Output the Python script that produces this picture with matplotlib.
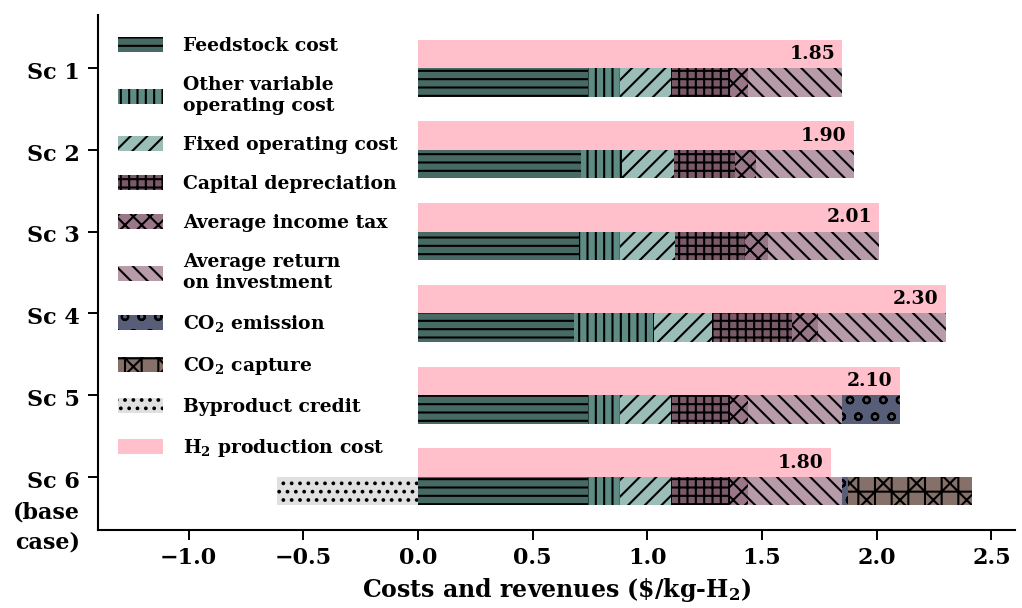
import matplotlib
matplotlib.use('Agg')
import matplotlib.pyplot as plt
import matplotlib.transforms as mtransforms
import numpy as np

# ---------------- data ----------------
scenarios = ['Sc 1', 'Sc 2', 'Sc 3', 'Sc 4', 'Sc 5', 'Sc 6\n(base\ncase)']
feedstock = [0.743, 0.709, 0.701, 0.680, 0.743, 0.743]
other_var = [0.139, 0.181, 0.182, 0.350, 0.139, 0.139]
fixed_op = [0.221, 0.226, 0.236, 0.251, 0.221, 0.221]
capital_dep = [0.257, 0.268, 0.307, 0.350, 0.257, 0.257]
income_tax = [0.080, 0.088, 0.098, 0.112, 0.080, 0.080]
return_inv = [0.410, 0.428, 0.486, 0.557, 0.410, 0.410]
co2_emission = [0.0, 0.0, 0.0, 0.0, 0.250, 0.025]
co2_capture = [0.0, 0.0, 0.0, 0.0, 0.0, 0.540]
byproduct = [0.0, 0.0, 0.0, 0.0, 0.0, -0.615]
h2_cost = [1.85, 1.90, 2.01, 2.30, 2.10, 1.80]

stack_labels = ['Feedstock cost', 'Other variable\noperating cost', 'Fixed operating cost',
                'Capital depreciation', 'Average income tax', 'Average return\non investment',
                'CO$_2$ emission', 'CO$_2$ capture']
byproduct_label = 'Byproduct credit'
h2_label = 'H$_2$ production cost'
xticks = [-1.0, -0.5, 0.0, 0.5, 1.0, 1.5, 2.0, 2.5]

# ---------------- style ----------------
FONT = 'DejaVu Serif'
plt.rcParams['font.family'] = [FONT, 'DejaVu Sans']
plt.rcParams['font.weight'] = 'bold'
plt.rcParams['mathtext.default'] = 'regular'
plt.rcParams['hatch.linewidth'] = 1.5
plt.rcParams['hatch.color'] = 'black'

colors = ['#476b64', '#5e8c84', '#9bbdb7', '#7a5a68', '#9a7689', '#b79ba9', '#585d78', '#86706a']
hatches = ['--', '||', '//', '++', 'xx', '\\\\', 'o', '+x']
byproduct_color, byproduct_hatch = '#e0e0e0', '..'
h2_color = '#ffc0cb'

fig = plt.figure(figsize=(10.22, 6.08), dpi=100)
ax = fig.add_axes([98/1022, 1-530/608, (1015-98)/1022, (530-15)/608])

y = np.arange(len(scenarios))
h = 0.35

# H2 production cost bars (upper)
hb = ax.barh(y - h/2, h2_cost, height=h, color=h2_color, linewidth=0, label=h2_label)

# stacked cost bars (lower)
series = [feedstock, other_var, fixed_op, capital_dep, income_tax, return_inv, co2_emission, co2_capture]
left = np.zeros(len(scenarios))
stack_handles = []
for vals, lab, c, ht in zip(series, stack_labels, colors, hatches):
    vals = np.array(vals)
    b = ax.barh(y + h/2, vals, left=left, height=h, color=c, hatch=ht, linewidth=0, label=lab)
    stack_handles.append(b)
    left = left + vals

bp = ax.barh(y + h/2, byproduct, left=0, height=h, color=byproduct_color, hatch=byproduct_hatch,
             linewidth=0, label=byproduct_label)

# value labels
for yi, v in zip(y, h2_cost):
    ax.annotate(f'{v:.2f}', xy=(v, yi - h/2), xytext=(-5, 0), textcoords='offset points',
                ha='right', va='center', fontsize=13.5, fontweight='bold', family=FONT)

ax.set_xlim(-1.395, 2.603)
ax.set_ylim(5.65, -0.65)
ax.set_yticks(y)
ax.set_yticklabels(scenarios, fontsize=16, fontweight='bold')
ax.set_xticks(xticks)
ax.set_xticklabels([f'{t:.1f}'.replace('-', '\u2212') for t in xticks], fontsize=16, fontweight='bold')
ax.set_xlabel(r'Costs and revenues (\$/kg-H$_2$)', fontsize=17, fontweight='bold', labelpad=5)

for s in ['top', 'right']:
    ax.spines[s].set_visible(False)
for s in ['left', 'bottom']:
    ax.spines[s].set_linewidth(1.5)
ax.tick_params(axis='both', direction='out', length=7, width=1.4)
ax.tick_params(axis='y', pad=6)
ax.tick_params(axis='x', pad=5)

# align tick labels on their first line (for the multi-line base case label)
shift = mtransforms.ScaledTranslation(0, 4.5/72, fig.dpi_scale_trans)
for lab in ax.get_yticklabels():
    lab.set_verticalalignment('top')
    lab.set_linespacing(1.5)
    lab.set_transform(lab.get_transform() + shift)

leg_handles = stack_handles + [bp, hb]
leg_labels = stack_labels + [byproduct_label, h2_label]
ax.legend(leg_handles, leg_labels, loc='upper left', bbox_to_anchor=(20/917, 1 - 22.4/515),
          frameon=False, prop={'family': FONT, 'weight': 'bold', 'size': 13.5},
          handlelength=2.4, handleheight=0.85, handletextpad=1.07, labelspacing=1.12,
          borderpad=0, borderaxespad=0)

fig.savefig('out.png', dpi=100)
